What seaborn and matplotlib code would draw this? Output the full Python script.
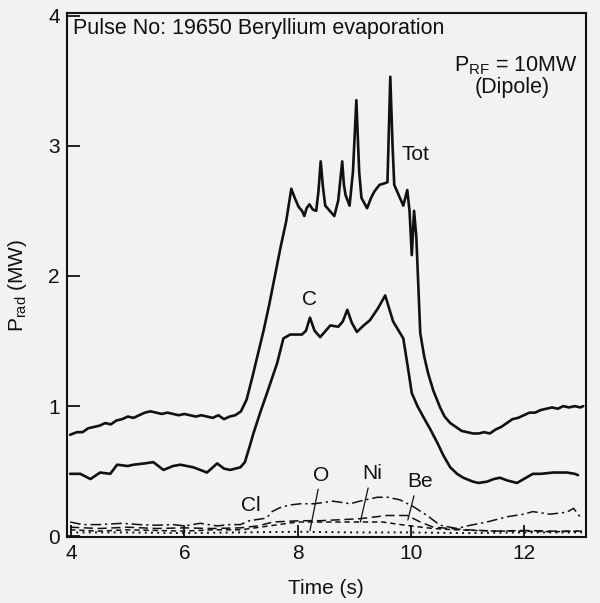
import matplotlib
matplotlib.use("Agg")
import matplotlib.pyplot as plt
import seaborn as sns

# Total radiated power (MW) vs time (s)
tot_t = [3.98, 4.1, 4.2, 4.3, 4.4, 4.5, 4.6, 4.7, 4.8, 4.9, 5.0, 5.1, 5.2, 5.3, 5.4, 5.5,
         5.6, 5.7, 5.8, 5.9, 6.0, 6.1, 6.2, 6.3, 6.4, 6.5, 6.6, 6.7, 6.8, 6.9, 7.0, 7.1,
         7.2, 7.3, 7.4, 7.5, 7.6, 7.7, 7.8, 7.89, 7.95, 8.02, 8.08, 8.12, 8.16, 8.21, 8.27,
         8.33, 8.37, 8.41, 8.45, 8.49, 8.57, 8.65, 8.72, 8.79, 8.82, 8.85, 8.92, 8.98, 9.04,
         9.09, 9.13, 9.23, 9.3, 9.36, 9.45, 9.53, 9.59, 9.64, 9.68, 9.71, 9.79, 9.87, 9.94,
         9.98, 10.02, 10.06, 10.1, 10.17, 10.24, 10.31, 10.4, 10.52, 10.6, 10.7, 10.8, 10.9,
         11.0, 11.1, 11.2, 11.3, 11.4, 11.5, 11.6, 11.7, 11.8, 11.9, 12.0, 12.1, 12.2, 12.3,
         12.4, 12.5, 12.6, 12.7, 12.8, 12.9, 13.0, 13.05]
tot_p = [0.78, 0.80, 0.80, 0.83, 0.84, 0.85, 0.87, 0.86, 0.89, 0.90, 0.92, 0.91, 0.93, 0.95,
         0.96, 0.95, 0.94, 0.95, 0.94, 0.93, 0.94, 0.93, 0.92, 0.93, 0.92, 0.91, 0.93, 0.90,
         0.92, 0.93, 0.96, 1.05, 1.22, 1.40, 1.58, 1.78, 2.00, 2.22, 2.42, 2.67, 2.60, 2.53,
         2.50, 2.46, 2.52, 2.55, 2.51, 2.50, 2.65, 2.88, 2.68, 2.54, 2.50, 2.46, 2.58, 2.88,
         2.70, 2.62, 2.54, 2.80, 3.35, 2.80, 2.60, 2.52, 2.60, 2.65, 2.70, 2.71, 2.72, 3.53,
         3.00, 2.70, 2.62, 2.54, 2.66, 2.50, 2.16, 2.50, 2.30, 1.56, 1.38, 1.25, 1.12, 0.99,
         0.92, 0.87, 0.84, 0.81, 0.80, 0.79, 0.79, 0.80, 0.79, 0.82, 0.84, 0.87, 0.90, 0.91,
         0.93, 0.95, 0.95, 0.97, 0.98, 0.99, 0.98, 1.00, 0.99, 1.00, 0.99, 1.00]

# Carbon
c_t = [3.98, 4.16, 4.34, 4.51, 4.69, 4.81, 5.0, 5.1, 5.3, 5.45, 5.63, 5.8, 5.93, 6.16, 6.4,
       6.58, 6.7, 6.81, 6.99, 7.07, 7.16, 7.22, 7.34, 7.46, 7.64, 7.75, 7.87, 8.08, 8.15,
       8.22, 8.30, 8.40, 8.50, 8.58, 8.72, 8.80, 8.88, 8.96, 9.05, 9.17, 9.28, 9.42, 9.55,
       9.62, 9.69, 9.87, 9.95, 10.02, 10.12, 10.22, 10.35, 10.47, 10.58, 10.70, 10.82,
       10.93, 11.1, 11.2, 11.35, 11.47, 11.58, 11.7, 11.88, 12.0, 12.16, 12.3, 12.52,
       12.76, 12.9, 12.96]
c_p = [0.48, 0.48, 0.44, 0.49, 0.48, 0.55, 0.54, 0.55, 0.56, 0.57, 0.51, 0.54, 0.55, 0.53,
       0.49, 0.56, 0.52, 0.51, 0.53, 0.57, 0.70, 0.79, 0.95, 1.10, 1.33, 1.52, 1.55, 1.55,
       1.58, 1.68, 1.58, 1.53, 1.58, 1.62, 1.61, 1.65, 1.74, 1.64, 1.57, 1.62, 1.66, 1.75,
       1.85, 1.75, 1.65, 1.52, 1.30, 1.10, 1.00, 0.92, 0.82, 0.72, 0.62, 0.53, 0.48, 0.45,
       0.42, 0.41, 0.42, 0.44, 0.45, 0.43, 0.41, 0.44, 0.48, 0.48, 0.49, 0.49, 0.48, 0.47]

# Chlorine
cl_t = [3.98, 4.2, 4.5, 4.9, 5.2, 5.5, 5.8, 6.0, 6.28, 6.58, 6.8, 6.99, 7.15, 7.3, 7.45,
        7.55, 7.69, 7.85, 8.05, 8.3, 8.63, 8.93, 9.1, 9.41, 9.6, 9.81, 10.04, 10.29, 10.52,
        10.82, 11.0, 11.35, 11.7, 12.0, 12.16, 12.46, 12.76, 12.88, 13.03]
cl_p = [0.11, 0.09, 0.09, 0.10, 0.09, 0.085, 0.09, 0.08, 0.10, 0.08, 0.09, 0.09, 0.12, 0.13,
        0.14, 0.19, 0.22, 0.24, 0.25, 0.25, 0.27, 0.25, 0.27, 0.30, 0.30, 0.28, 0.23, 0.16,
        0.085, 0.06, 0.08, 0.11, 0.15, 0.17, 0.19, 0.17, 0.185, 0.215, 0.13]

# Beryllium
be_t = [3.98, 4.5, 5.0, 5.5, 6.0, 6.5, 6.99, 7.3, 7.57, 8.05, 8.4, 9.1, 9.58, 9.94, 10.17,
        10.4, 10.7, 11.0, 11.5, 12.0, 12.5, 13.03]
be_p = [0.07, 0.06, 0.07, 0.06, 0.065, 0.06, 0.065, 0.08, 0.11, 0.12, 0.12, 0.135, 0.16,
        0.16, 0.11, 0.07, 0.06, 0.05, 0.04, 0.045, 0.04, 0.04]

# Nickel
ni_t = [3.98, 4.5, 5.0, 5.5, 6.0, 6.5, 7.0, 7.5, 8.0, 8.5, 9.0, 9.5, 9.99, 10.4, 10.8,
        11.5, 12.0, 12.5, 13.03]
ni_p = [0.05, 0.04, 0.05, 0.045, 0.04, 0.05, 0.05, 0.08, 0.11, 0.11, 0.11, 0.11, 0.08,
        0.06, 0.05, 0.04, 0.04, 0.035, 0.04]

# Oxygen
o_t = [3.98, 5.0, 6.0, 7.0, 8.0, 9.0, 10.0, 11.0, 12.0, 13.03]
o_p = [0.03, 0.03, 0.025, 0.03, 0.035, 0.03, 0.03, 0.025, 0.03, 0.03]

bg = "#f2f2f2"
ink = "#111111"
fs = 15

sns.set_theme(style="ticks")
plt.rcParams["font.family"] = ["Liberation Sans", "DejaVu Sans"]
plt.rcParams["mathtext.fontset"] = "custom"
plt.rcParams["mathtext.rm"] = "Liberation Sans"
plt.rcParams["mathtext.it"] = "Liberation Sans:italic"

fig = plt.figure(figsize=(6, 6.03), dpi=100, facecolor=bg)
ax = fig.add_axes([0.1112, 0.1095, 0.8655, 0.869], facecolor=bg)

series = [
    (tot_t, tot_p, dict(lw=1.9, linestyle="-")),
    (c_t, c_p, dict(lw=1.9, linestyle="-")),
    (cl_t, cl_p, dict(lw=1.1, linestyle=(0, (7, 2.5, 1.5, 2.5)))),
    (be_t, be_p, dict(lw=1.1, linestyle=(0, (6, 3)))),
    (ni_t, ni_p, dict(lw=1.1, linestyle=(0, (3.5, 2.5)))),
    (o_t, o_p, dict(lw=1.4, linestyle=(0, (1, 2.2)))),
]
for t, p, kw in series:
    sns.lineplot(x=t, y=p, ax=ax, color=ink, estimator=None, sort=False, **kw)

ax.set_xlim(3.92, 13.1)
ax.set_ylim(-0.005, 4.02)
ax.set_xticks([4, 6, 8, 10, 12])
ax.set_yticks([0, 1, 2, 3, 4])
ax.tick_params(direction="in", length=9, width=1.3, colors=ink, labelsize=fs, pad=5)
for s in ax.spines.values():
    s.set_visible(True)
    s.set_linewidth(1.5)
    s.set_color(ink)

ax.set_xlabel("Time (s)", fontsize=fs, color=ink)
ax.set_ylabel(r"P$_{\rm rad}$ (MW)", fontsize=fs, color=ink)
ax.xaxis.set_label_coords(0.50, -0.080)
ax.yaxis.set_label_coords(-0.072, 0.48)

ax.text(0.012, 0.960, "Pulse No: 19650 Beryllium evaporation", transform=ax.transAxes,
        ha="left", va="baseline", fontsize=15.5, color=ink)
ax.text(0.984, 0.899, r"P$_{\rm RF}$ = 10MW", transform=ax.transAxes,
        ha="right", va="center", fontsize=15.5, color=ink)
ax.text(0.857, 0.858, "(Dipole)", transform=ax.transAxes,
        ha="center", va="center", fontsize=15.5, color=ink)

ax.text(9.83, 2.93, "Tot", ha="left", va="center", fontsize=fs, color=ink)
ax.text(8.22, 1.82, "C", ha="center", va="center", fontsize=fs, color=ink)
ax.text(7.18, 0.235, "Cl", ha="center", va="center", fontsize=fs, color=ink)

leaders = [("O", (8.22, 0.045), (8.41, 0.47), 0.4),
           ("Ni", (9.11, 0.11), (9.32, 0.48), 0.35),
           ("Be", (9.95, 0.125), (10.17, 0.42), 0.3)]
for name, tip, pos, rx in leaders:
    ax.annotate(name, xy=tip, xytext=pos, ha="center", va="center", fontsize=fs, color=ink,
                arrowprops=dict(arrowstyle="-", lw=0.9, color=ink, shrinkA=1, shrinkB=0,
                                relpos=(rx, 0)))

fig.savefig("out.png", dpi=100, facecolor=bg)
